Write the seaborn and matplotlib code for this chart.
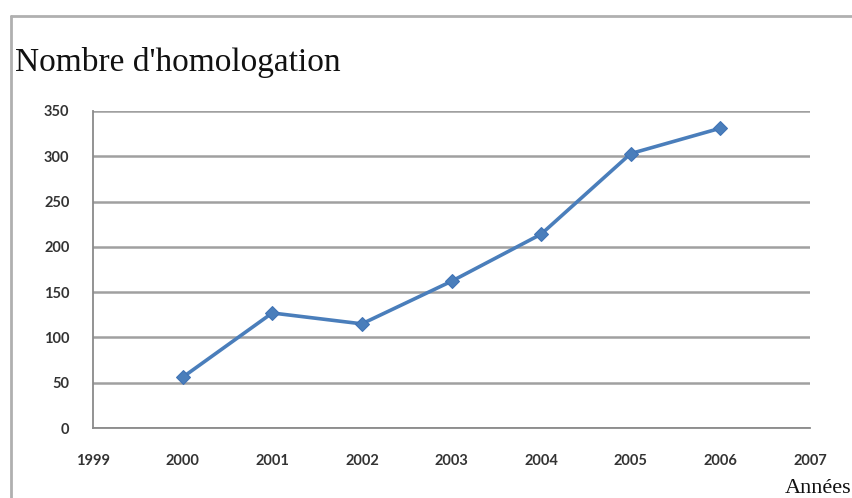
import pandas as pd
import matplotlib.pyplot as plt
import seaborn as sns
from matplotlib.lines import Line2D

# values
years = [2000, 2001, 2002, 2003, 2004, 2005, 2006]
homologations = [56, 127, 115, 162, 214, 303, 331]
x_ticks = [1999, 2000, 2001, 2002, 2003, 2004, 2005, 2006, 2007]
y_ticks = [0, 50, 100, 150, 200, 250, 300, 350]

df = pd.DataFrame({"Annee": years, "Nombre": homologations})

sns.set_style("white")
fig = plt.figure(figsize=(8.53, 4.98), dpi=100)
ax = fig.add_axes([93 / 853, 1 - 428 / 498, (810 - 93) / 853, (428 - 111) / 498])

sns.lineplot(data=df, x="Annee", y="Nombre", ax=ax, color="#4a7ebb",
             linewidth=2.6, marker="D", markersize=7.5,
             markeredgecolor="#3f72b5", markerfacecolor="#4a7ebb")

ax.set_xlim(1999, 2007)
ax.set_ylim(0, 350)
ax.set_xticks(x_ticks)
ax.set_yticks(y_ticks)
ax.set_xlabel("")
ax.set_ylabel("")

# horizontal grid like the Excel chart
ax.grid(axis="y", color="#a0a0a0", linewidth=1.8)
ax.grid(axis="x", visible=False)
for side in ["top", "right"]:
    ax.spines[side].set_visible(False)
for side in ["left", "bottom"]:
    ax.spines[side].set_color("#8a8a8a")
    ax.spines[side].set_linewidth(1.3)

ax.tick_params(axis="both", direction="out", length=5, width=1.2,
               color="#8a8a8a", labelcolor="#333333", labelsize=10.5)
for lab in ax.get_xticklabels() + ax.get_yticklabels():
    lab.set_family("Lato")
    lab.set_fontweight("bold")
ax.tick_params(axis="y", pad=12)
ax.tick_params(axis="x", pad=14)

# titles in serif, as in the original
fig.text(15 / 853, 1 - 63 / 498, "Nombre d'homologation", family="Liberation Serif",
         fontsize=24, va="center", ha="left", color="#111111")
fig.text(851 / 853, 5 / 498, "Années", family="Liberation Serif",
         fontsize=16, va="baseline", ha="right", color="#111111")

# outer chart frame (left and top)
fig.add_artist(Line2D([11 / 853, 11 / 853], [0, 1 - 16 / 498], transform=fig.transFigure,
                      color="#b0b0b0", linewidth=2))
fig.add_artist(Line2D([11 / 853, 1], [1 - 16 / 498, 1 - 16 / 498], transform=fig.transFigure,
                      color="#b0b0b0", linewidth=2))

plt.savefig("out.png", dpi=100)
